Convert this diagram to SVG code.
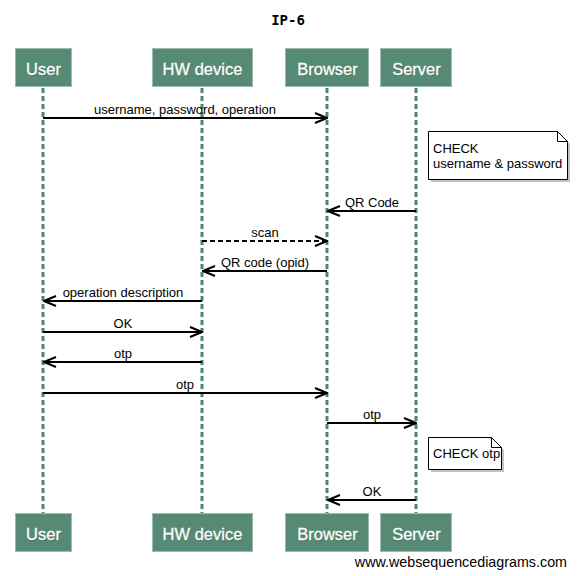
<svg xmlns="http://www.w3.org/2000/svg" width="577" height="576" viewBox="0 0 577 576">
<style>
.box{fill:#578a75;stroke:#9dbcae;stroke-width:1}
.bt{font-family:"Liberation Sans",Arial,sans-serif;font-size:16.5px;fill:#fff;text-anchor:middle;stroke:#fff;stroke-width:0.3}
.bts{font-family:"Liberation Sans",Arial,sans-serif;font-size:16.5px;fill:#2c4a3d;text-anchor:middle;opacity:0.6}
.life{stroke:#4f8570;stroke-width:3;stroke-dasharray:5,3;fill:none}
.msg{stroke:#000;stroke-width:2;fill:none}
.dash{stroke-dasharray:5,3}
.ml{font-family:"Liberation Sans",Arial,sans-serif;font-size:13px;fill:#000;text-anchor:middle}
.note{fill:#fff;stroke:#000;stroke-width:1}
.shadow{fill:#999;opacity:0.6}
.nt{font-family:"Liberation Sans",Arial,sans-serif;font-size:13px;fill:#000}
</style>
<defs>
<marker id="ah" viewBox="0 0 14 12" refX="13" refY="6" markerWidth="14" markerHeight="12" markerUnits="userSpaceOnUse" orient="auto">
<path d="M1,1 L13,6 L1,11" fill="none" stroke="#000" stroke-width="2"/>
</marker>
</defs>
<rect width="577" height="576" fill="#fff"/>
<text x="288" y="25" font-family="'DejaVu Sans Mono',monospace" font-weight="bold" font-size="14" text-anchor="middle">IP-6</text>

<g id="lifelines">
<line class="life" x1="43" y1="88" x2="43" y2="513"/>
<line class="life" x1="202" y1="88" x2="202" y2="513"/>
<line class="life" x1="327" y1="88" x2="327" y2="513"/>
<line class="life" x1="416" y1="88" x2="416" y2="513"/>
</g>

<g id="user">
<rect class="box" x="15.5" y="48.5" width="56" height="38"/>
<text class="bts" x="44" y="76">User</text><text class="bt" x="43.5" y="75">User</text>
<rect class="box" x="15.5" y="513.5" width="56" height="38"/>
<text class="bts" x="44" y="541">User</text><text class="bt" x="43.5" y="540">User</text>
</g>
<g id="hwdevice">
<rect class="box" x="152.5" y="48.5" width="100" height="38"/>
<text class="bts" x="203" y="76">HW device</text><text class="bt" x="202.5" y="75">HW device</text>
<rect class="box" x="152.5" y="513.5" width="100" height="38"/>
<text class="bts" x="203" y="541">HW device</text><text class="bt" x="202.5" y="540">HW device</text>
</g>
<g id="browser">
<rect class="box" x="285.5" y="48.5" width="83" height="38"/>
<text class="bts" x="328" y="76">Browser</text><text class="bt" x="327.5" y="75">Browser</text>
<rect class="box" x="285.5" y="513.5" width="83" height="38"/>
<text class="bts" x="328" y="541">Browser</text><text class="bt" x="327.5" y="540">Browser</text>
</g>
<g id="server">
<rect class="box" x="380.5" y="48.5" width="71" height="38"/>
<text class="bts" x="417" y="76">Server</text><text class="bt" x="416.5" y="75">Server</text>
<rect class="box" x="380.5" y="513.5" width="71" height="38"/>
<text class="bts" x="417" y="541">Server</text><text class="bt" x="416.5" y="540">Server</text>
</g>

<g id="note1">
<path class="shadow" d="M431,134 H560 L570,144 V182 H431 Z"/>
<path class="note" d="M428.5,131.5 H557.5 L567.5,141.5 V179.5 H428.5 Z"/>
<path d="M557.5,131.5 V141.5 H567.5" fill="none" stroke="#000" stroke-width="1"/>
<text class="nt" x="433" y="153">CHECK</text>
<text class="nt" x="433" y="168">username &amp; password</text>
</g>
<g id="note2">
<path class="shadow" d="M431,440 H494 L504,450 V472 H431 Z"/>
<path class="note" d="M428.5,437.5 H491.5 L501.5,447.5 V469.5 H428.5 Z"/>
<path d="M491.5,437.5 V447.5 H501.5" fill="none" stroke="#000" stroke-width="1"/>
<text class="nt" x="433" y="458">CHECK otp</text>
</g>

<g id="connectors">
<line class="msg" x1="43" y1="118" x2="327" y2="118" marker-end="url(#ah)"/>
<text class="ml" x="185" y="114">username, password, operation</text>
<line class="msg" x1="416" y1="211" x2="328" y2="211" marker-end="url(#ah)"/>
<text class="ml" x="372" y="207">QR Code</text>
<line class="msg dash" x1="202" y1="241" x2="327" y2="241" marker-end="url(#ah)"/>
<text class="ml" x="265" y="237">scan</text>
<line class="msg" x1="327" y1="271" x2="203" y2="271" marker-end="url(#ah)"/>
<text class="ml" x="265" y="267">QR code (opid)</text>
<line class="msg" x1="202" y1="301" x2="44" y2="301" marker-end="url(#ah)"/>
<text class="ml" x="123" y="297">operation description</text>
<line class="msg" x1="43" y1="332" x2="202" y2="332" marker-end="url(#ah)"/>
<text class="ml" x="123" y="328">OK</text>
<line class="msg" x1="202" y1="362" x2="44" y2="362" marker-end="url(#ah)"/>
<text class="ml" x="123" y="358">otp</text>
<line class="msg" x1="43" y1="393" x2="327" y2="393" marker-end="url(#ah)"/>
<text class="ml" x="185" y="389">otp</text>
<line class="msg" x1="327" y1="423" x2="416" y2="423" marker-end="url(#ah)"/>
<text class="ml" x="372" y="419">otp</text>
<line class="msg" x1="416" y1="500" x2="328" y2="500" marker-end="url(#ah)"/>
<text class="ml" x="372" y="496">OK</text>
</g>

<text x="567" y="567" font-family="'Liberation Sans',Arial,sans-serif" font-size="14.3" text-anchor="end">www.websequencediagrams.com</text>
</svg>
